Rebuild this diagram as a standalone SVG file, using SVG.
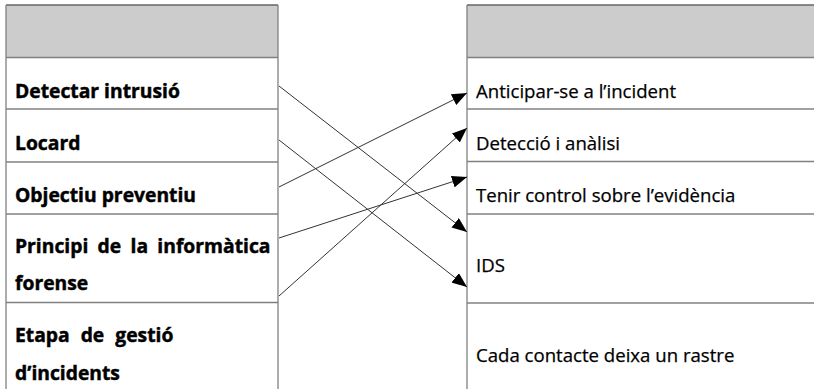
<svg xmlns="http://www.w3.org/2000/svg" width="814" height="389" viewBox="0 0 814 389">
  <style>
    .grid { stroke: #808080; stroke-width: 1.3; fill: none; }
    .edge { stroke: #666666; stroke-width: 1.5; }
    .head { fill: #cccccc; }
    .lbl { font-family: "Open Sans", "Liberation Sans", sans-serif; font-size: 19.3px; font-weight: bold; fill: #000; stroke: #000; stroke-width: 0.45; }
    .opt { font-family: "Open Sans", "Liberation Sans", sans-serif; font-size: 18.6px; fill: #000; stroke: #000; stroke-width: 0.25; }
    .link { stroke: #333333; stroke-width: 1; fill: none; marker-end: url(#tip); }
  </style>
  <defs>
    <marker id="tip" markerUnits="userSpaceOnUse" markerWidth="15" markerHeight="12" refX="15" refY="6" orient="auto">
      <path d="M0,0 L15,6 L0,12 z" fill="#000"/>
    </marker>
  </defs>
  <rect width="814" height="389" fill="#ffffff"/>

  <!-- left column of terms -->
  <g id="left-table">
    <rect class="head" x="6" y="5" width="272" height="52.5"/>
    <line class="edge" x1="6" y1="5" x2="278" y2="5"/>
    <line class="grid" x1="6" y1="5" x2="6" y2="389"/>
    <line class="grid" x1="278" y1="5" x2="278" y2="389"/>
    <line class="grid" x1="6" y1="57.5" x2="278" y2="57.5"/>
    <line class="grid" x1="6" y1="109" x2="278" y2="109"/>
    <line class="grid" x1="6" y1="162" x2="278" y2="162"/>
    <line class="grid" x1="6" y1="214" x2="278" y2="214"/>
    <line class="grid" x1="6" y1="302.5" x2="278" y2="302.5"/>
  </g>
  <g id="term-detectar"><text class="lbl" x="15" y="98">Detectar intrusió</text></g>
  <g id="term-locard"><text class="lbl" x="15" y="149.5">Locard</text></g>
  <g id="term-objectiu"><text class="lbl" x="15" y="201.5">Objectiu preventiu</text></g>
  <g id="term-principi">
    <text class="lbl" x="15" y="253" word-spacing="4.3">Principi de la informàtica</text>
    <text class="lbl" x="15" y="289.5">forense</text>
  </g>
  <g id="term-etapa">
    <text class="lbl" x="15" y="341.5" word-spacing="6">Etapa de gestió</text>
    <text class="lbl" x="15" y="379.5">d’incidents</text>
  </g>

  <!-- right column of definitions -->
  <g id="right-table">
    <rect class="head" x="467" y="5" width="347" height="52.5"/>
    <line class="edge" x1="467" y1="5" x2="814" y2="5"/>
    <line class="grid" x1="467" y1="5" x2="467" y2="389"/>
    <line class="grid" x1="467" y1="57.5" x2="814" y2="57.5"/>
    <line class="grid" x1="467" y1="109" x2="814" y2="109"/>
    <line class="grid" x1="467" y1="161.5" x2="814" y2="161.5"/>
    <line class="grid" x1="467" y1="214" x2="814" y2="214"/>
    <line class="grid" x1="467" y1="303" x2="814" y2="303"/>
  </g>
  <g id="def-anticipar"><text class="opt" x="476" y="97.5">Anticipar-se a l’incident</text></g>
  <g id="def-deteccio"><text class="opt" x="476" y="150">Detecció i anàlisi</text></g>
  <g id="def-tenir"><text class="opt" x="476" y="201.5">Tenir control sobre l’evidència</text></g>
  <g id="def-ids"><text class="opt" x="476" y="271.5">IDS</text></g>
  <g id="def-cada"><text class="opt" x="476" y="361.5">Cada contacte deixa un rastre</text></g>

  <!-- matching arrows -->
  <g id="connectors">
    <line class="link" x1="279" y1="86" x2="467" y2="232"/>
    <line class="link" x1="279" y1="140" x2="467" y2="287"/>
    <line class="link" x1="279" y1="187" x2="467" y2="93"/>
    <line class="link" x1="279" y1="238" x2="467" y2="177"/>
    <line class="link" x1="279" y1="296" x2="467" y2="128"/>
  </g>
</svg>
